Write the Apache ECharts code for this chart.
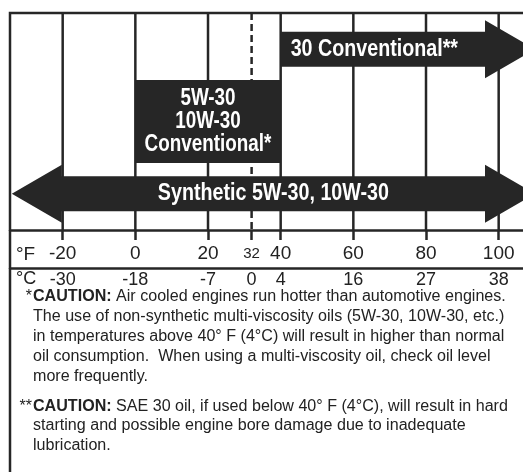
<!DOCTYPE html>
<html>
<head>
<meta charset="utf-8">
<script src="https://cdn.jsdelivr.net/npm/echarts@6/dist/echarts.min.js"></script>
<style>
  html, body { margin: 0; padding: 0; background: #fff; }
  #chart { width: 523px; height: 472px; }
</style>
</head>
<body>
<div id="chart"></div>
<script>
// Temperature ticks (°F) along the scale, and the matching °C labels
const fTicks = [-20, 0, 20, 32, 40, 60, 80, 100];
const cTickLabels = ['-30', '-18', '-7', '0', '4', '16', '27', '38'];
const freezingF = 32;

// Oil grades and the temperature range (°F) each one covers
const oilNames = ['30 Conventional**', '5W-30\n10W-30\nConventional*', 'Synthetic 5W-30, 10W-30'];
const oilFrom = [40, 0, -34];
const oilTo = [110, 40, 110];
// Ranges that continue past the ends of the scale get arrowheads
const openBelow = [false, false, true];
const openAbove = [true, false, true];

// Footnotes printed under the scale
const note1 = [
  'The use of non-synthetic multi-viscosity oils (5W-30, 10W-30, etc.)',
  'in temperatures above 40\u00B0 F (4\u00B0C) will result in higher than normal',
  'oil consumption.  When using a multi-viscosity oil, check oil level',
  'more frequently.'
];
const note1Lead = ' Air cooled engines run hotter than automotive engines.';
const note2Lead = ' SAE 30 oil, if used below 40\u00B0 F (4\u00B0C), will result in hard';
const note2 = [
  'starting and possible engine bore damage due to inadequate',
  'lubrication.'
];

const INK = '#262626';
const SANS = "'Liberation Sans', Arial, Helvetica, sans-serif";
const NOTE_FONT = '16px ' + SANS;
const NOTE_SCALE = 1.005;
const BANNER_SCALE = 0.82;

const chart = echarts.init(document.getElementById('chart'), null, { renderer: 'canvas' });

function bannerText(text, x, y, size, align) {
  return {
    type: 'text', x: x, y: y, scaleX: BANNER_SCALE,
    style: { text: text, x: 0, y: 0, align: align || 'center', verticalAlign: 'middle',
      fill: '#fff', font: 'bold ' + size + 'px ' + SANS, lineHeight: 23 }
  };
}

function renderOil(params, api) {
  const i = params.dataIndex;
  const a = api.coord([api.value(0), api.value(2)]);
  const b = api.coord([api.value(1), api.value(2)]);
  const cy = a[1];
  const xa = a[0], xb = b[0];
  const lo = openBelow[i], hi = openAbove[i];
  const children = [];
  if (!lo && !hi) {
    // closed range: a solid block with the grade names stacked inside
    const h = 83;
    children.push({ type: 'rect', shape: { x: xa, y: cy - h / 2, width: xb - xa, height: h },
      style: { fill: INK } });
    children.push(bannerText(oilNames[i], (xa + xb) / 2, cy, 23));
  } else {
    // open range: an arrow pointing past the end(s) of the scale
    const bh = 17.5, hh = 29, hl = 50;
    const pts = [];
    if (lo) { pts.push([xa, cy], [xa + hl, cy - hh], [xa + hl, cy - bh]); }
    else { pts.push([xa, cy - bh]); }
    if (hi) { pts.push([xb - hl, cy - bh], [xb - hl, cy - hh], [xb, cy], [xb - hl, cy + hh], [xb - hl, cy + bh]); }
    else { pts.push([xb, cy - bh], [xb, cy + bh]); }
    if (lo) { pts.push([xa + hl, cy + bh], [xa + hl, cy + hh]); }
    else { pts.push([xa, cy + bh]); }
    children.push({ type: 'polygon', shape: { points: pts }, style: { fill: INK } });
    const bodyL = lo ? xa + hl : xa;
    const bodyR = hi ? xb - hl : xb;
    if (lo && hi) {
      children.push(bannerText(oilNames[i], (bodyL + bodyR) / 2, cy, 24));
    } else {
      children.push(bannerText(oilNames[i], bodyL + 10, cy, 24, 'left'));
    }
  }
  return { type: 'group', children: children };
}

function renderGridLine(params, api) {
  const v = api.value(0);
  const x = api.coord([v, 0])[0];
  const cs = params.coordSys;
  return {
    type: 'line',
    shape: { x1: x, y1: cs.y, x2: x, y2: cs.y + cs.height },
    style: { stroke: INK, lineWidth: 2.5, lineDash: v === freezingF ? [7, 4] : null }
  };
}

function noteText(text, x, y) {
  return {
    type: 'text', x: x, y: y, scaleX: NOTE_SCALE,
    style: { text: text, x: 0, y: 0, verticalAlign: 'middle', font: NOTE_FONT, fill: '#222',
      rich: { b: { font: 'bold ' + NOTE_FONT, fill: '#222' } } }
  };
}

const graphics = [
  { type: 'rect', z: 0, silent: true,
    shape: { x: 10, y: 13, width: 700, height: 700 },
    style: { fill: null, stroke: INK, lineWidth: 2.5 } },
  { type: 'text', style: { text: '\u00B0F', x: 16, y: 255, verticalAlign: 'middle', font: '19px ' + SANS, fill: '#222' } },
  { type: 'text', style: { text: '\u00B0C', x: 16, y: 279, verticalAlign: 'middle', font: '18px ' + SANS, fill: '#222' } },
  { type: 'text', style: { text: '*', x: 32, y: 297, align: 'right', verticalAlign: 'middle', font: NOTE_FONT, fill: '#222' } },
  noteText('{b|CAUTION:}' + note1Lead, 33, 297),
  { type: 'text', style: { text: '**', x: 32, y: 407, align: 'right', verticalAlign: 'middle', font: NOTE_FONT, fill: '#222' } },
  noteText('{b|CAUTION:}' + note2Lead, 33, 407)
];
note1.forEach((t, k) => graphics.push(noteText(t, 33, 317 + k * 19.7)));
note2.forEach((t, k) => graphics.push(noteText(t, 33, 426 + k * 19.7)));

const option = {
  animation: false,
  backgroundColor: '#fff',
  grid: { left: 10, top: 13, width: 525, height: 217, outerBoundsMode: 'none', containLabel: false },
  xAxis: [
    {
      type: 'value', min: -34.5, max: 110, position: 'bottom',
      axisLine: { show: true, lineStyle: { color: INK, width: 2.5 } },
      axisTick: { show: true, customValues: fTicks, length: 10, inside: false,
        lineStyle: { color: INK, width: 2.5 } },
      axisLabel: {
        customValues: fTicks, margin: 13, fontSize: 19, lineHeight: 22,
        fontFamily: SANS, color: '#222', hideOverlap: false,
        formatter: v => v === freezingF ? '{s|' + v + '}' : String(v),
        rich: { s: { fontSize: 15, lineHeight: 22, fontFamily: SANS, color: '#222' } }
      },
      splitLine: { show: false }
    },
    {
      type: 'value', min: -34.5, max: 110, position: 'bottom', offset: 38,
      axisLine: { show: true, lineStyle: { color: INK, width: 2.5 } },
      axisTick: { show: false },
      axisLabel: {
        customValues: fTicks, margin: 1, fontSize: 18, lineHeight: 22,
        fontFamily: SANS, color: '#222', hideOverlap: false,
        formatter: v => cTickLabels[fTicks.indexOf(v)]
      },
      splitLine: { show: false }
    }
  ],
  yAxis: {
    type: 'category', inverse: true,
    data: oilNames,
    axisLine: { show: false }, axisTick: { show: false }, axisLabel: { show: false },
    splitLine: { show: false }
  },
  graphic: graphics,
  series: [
    {
      type: 'custom', name: 'grid', z: 1, silent: true, clip: false,
      data: fTicks.map(v => [v, 0]),
      encode: { x: 0, y: 1 },
      renderItem: renderGridLine
    },
    {
      type: 'custom', name: 'oils', z: 5, silent: true, clip: false,
      data: oilNames.map((n, i) => [oilFrom[i], oilTo[i], i]),
      encode: { x: [0, 1], y: 2 },
      renderItem: renderOil
    }
  ]
};

chart.setOption(option);
</script>
</body>
</html>
